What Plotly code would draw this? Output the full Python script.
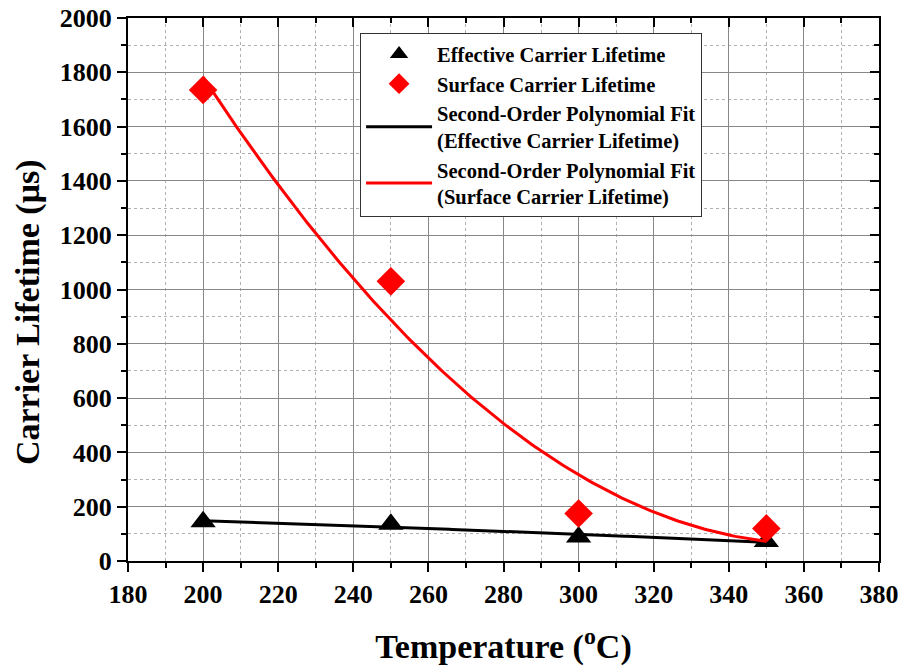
import numpy as np
import plotly.graph_objects as go

temps = [200, 250, 300, 350]
effective = [145, 135, 88, 72]
surface = [1735, 1030, 175, 120]

x_ticks = [180, 200, 220, 240, 260, 280, 300, 320, 340, 360, 380]
y_ticks = [0, 200, 400, 600, 800, 1000, 1200, 1400, 1600, 1800, 2000]

xf = np.linspace(200, 350, 200)
eff_fit = np.polyval(np.polyfit(temps, effective, 2), xf)
surf_fit = np.polyval(np.polyfit(temps, surface, 2), xf)

FONT = "Liberation Serif, Times New Roman, serif"

fig = go.Figure()
fig.add_trace(go.Scatter(x=temps, y=effective, mode="markers", name="<b>Effective Carrier Lifetime</b>",
                         marker=dict(symbol="triangle-up", size=22, color="black")))
fig.add_trace(go.Scatter(x=temps, y=surface, mode="markers", name="<b>Surface Carrier Lifetime</b>",
                         marker=dict(symbol="diamond", size=22, color="red")))
fig.add_trace(go.Scatter(x=xf, y=eff_fit, mode="lines",
                         name="<b>Second-Order Polynomial Fit<br>(Effective Carrier Lifetime)</b>",
                         line=dict(color="black", width=3)))
fig.add_trace(go.Scatter(x=xf, y=surf_fit, mode="lines",
                         name="<b>Second-Order Polynomial Fit<br>(Surface Carrier Lifetime)</b>",
                         line=dict(color="red", width=3)))
# invisible trace for mirrored axes
fig.add_trace(go.Scatter(x=[180], y=[0], xaxis="x2", yaxis="y2", mode="markers",
                         marker=dict(opacity=0), showlegend=False, hoverinfo="skip"))

common = dict(showline=True, linecolor="black", linewidth=2, ticks="outside", ticklen=9,
              tickwidth=2, tickcolor="black", zeroline=False, automargin=False,
              tickfont=dict(family=FONT, size=26, color="black"))

fig.update_layout(
    width=902, height=666,
    margin=dict(l=128, r=23, t=18, b=105),
    paper_bgcolor="white", plot_bgcolor="white",
    font=dict(family=FONT, color="black"),
    xaxis=dict(range=[180, 380], tickvals=x_ticks, ticktext=[f"<b>{v}</b>" for v in x_ticks],
               showgrid=True, gridcolor="#888888", gridwidth=1,
               minor=dict(dtick=10, tick0=180, showgrid=True, gridcolor="#b0b0b0", griddash="dot",
                          ticks="outside", ticklen=5, tickwidth=2, tickcolor="black"),
               title=dict(text="<b>Temperature (<sup>o</sup>C)</b>", font=dict(family=FONT, size=34),
                          standoff=26),
               **common),
    yaxis=dict(range=[0, 2000], tickvals=y_ticks, ticktext=[f"<b>{v}</b>" for v in y_ticks],
               showgrid=True, gridcolor="#888888", gridwidth=1,
               minor=dict(dtick=100, tick0=0, showgrid=True, gridcolor="#b0b0b0", griddash="dot",
                          ticks="outside", ticklen=5, tickwidth=2, tickcolor="black"),
               **common),
    xaxis2=dict(range=[180, 380], overlaying="x", side="top", showline=True, linecolor="black",
                linewidth=2, ticks="inside", ticklen=9, tickwidth=2, tickcolor="black",
                tickvals=x_ticks, showticklabels=False, showgrid=False, zeroline=False, automargin=False,
                minor=dict(dtick=10, tick0=180, ticks="inside", ticklen=5, tickwidth=2, tickcolor="black")),
    yaxis2=dict(range=[0, 2000], overlaying="y", side="right", showline=True, linecolor="black",
                linewidth=2, ticks="inside", ticklen=9, tickwidth=2, tickcolor="black",
                tickvals=y_ticks, showticklabels=False, showgrid=False, zeroline=False, automargin=False,
                minor=dict(dtick=100, tick0=0, ticks="inside", ticklen=5, tickwidth=2, tickcolor="black")),
    legend=dict(x=0.309, y=0.972, xanchor="left", yanchor="top",
                bgcolor="white", bordercolor="#333333", borderwidth=1,
                font=dict(family=FONT, size=20.5, color="black"), tracegroupgap=0,
                itemwidth=66),
    annotations=[dict(text="<b>Carrier Lifetime (μs)</b>", textangle=-90, xref="paper", yref="paper",
                      x=-0.133, y=0.4586, xanchor="center", yanchor="middle", showarrow=False,
                      font=dict(family=FONT, size=34, color="black"))],
    showlegend=True,
)

fig.write_html("out.html")
